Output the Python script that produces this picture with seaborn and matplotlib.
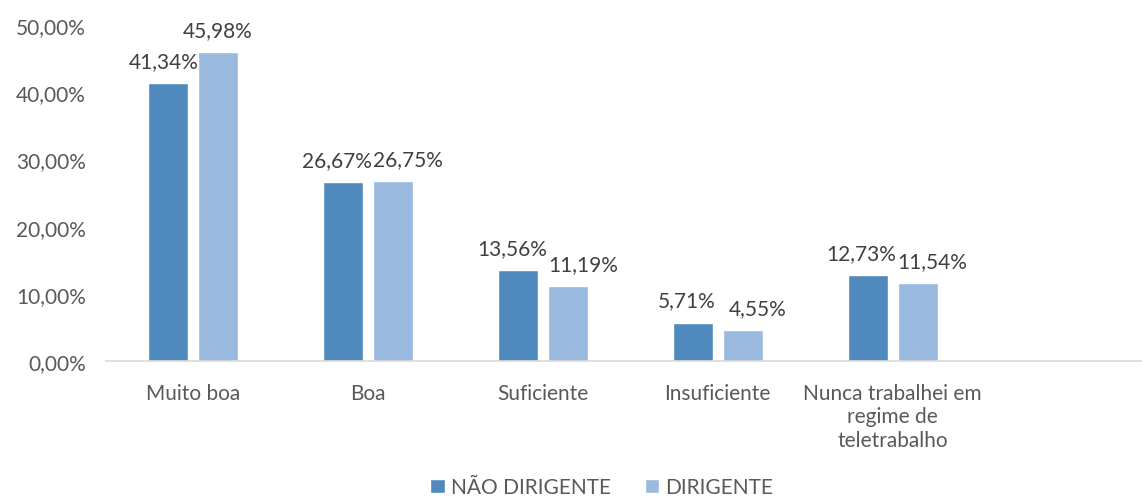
import matplotlib
matplotlib.use("Agg")
import matplotlib.pyplot as plt
import seaborn as sns
import pandas as pd
from matplotlib.ticker import FuncFormatter
from matplotlib.transforms import offset_copy

categories = ["Muito boa", "Boa", "Suficiente", "Insuficiente",
              "Nunca trabalhei em\nregime de\nteletrabalho"]
series_names = ["NÃO DIRIGENTE", "DIRIGENTE"]
nao_dirigente = [41.34, 26.67, 13.56, 5.71, 12.73]
dirigente = [45.98, 26.75, 11.19, 4.55, 11.54]
y_ticks = [0, 10, 20, 30, 40, 50]

colors = ["#4F89BD", "#9AB9DF"]

sns.set_theme(style="white")
plt.rcParams["font.family"] = ["Lato", "DejaVu Sans"]

rows = []
for c, a, b in zip(categories, nao_dirigente, dirigente):
    rows.append({"cat": c, "serie": series_names[0], "val": a})
    rows.append({"cat": c, "serie": series_names[1], "val": b})
df = pd.DataFrame(rows)

FS = 15
fig = plt.figure(figsize=(11.42, 5.02), dpi=100)
ax = fig.add_axes([0.0924, 0.279, 0.919, 0.669])

sns.barplot(data=df, x="cat", y="val", hue="serie", order=categories,
            hue_order=series_names, palette=colors, width=0.571, gap=0.2,
            ax=ax, legend=True, errorbar=None, saturation=1)

ax.set_xlim(-0.5, 5.5)
ax.set_ylim(0, 50)
ax.set_yticks(y_ticks)
ax.yaxis.set_major_formatter(FuncFormatter(lambda v, p: f"{v:.2f}".replace(".", ",") + "%"))
ax.set_xlabel("")
ax.set_ylabel("")

for s in ["top", "right", "left"]:
    ax.spines[s].set_visible(False)
ax.spines["bottom"].set_color("#D9D9D9")
ax.spines["bottom"].set_linewidth(1.2)

ax.tick_params(axis="y", length=0, labelsize=FS, labelcolor="#595959", pad=14)
ax.tick_params(axis="x", length=0, labelsize=FS, labelcolor="#595959", pad=16)
for lbl in ax.get_xticklabels():
    lbl.set_linespacing(1.2)

dark_bars, light_bars = ax.containers[0], ax.containers[1]
for bd, bl in zip(dark_bars, light_bars):
    hd, hl = bd.get_height(), bl.get_height()
    close = abs(hd - hl) < 3
    for bar, off in ((bd, -6 if close else -4), (bl, 15 if close else 0)):
        h = bar.get_height()
        tr = offset_copy(ax.transData, fig=fig, x=off, y=12, units="dots")
        ax.text(bar.get_x() + bar.get_width() / 2, h,
                f"{h:.2f}".replace(".", ",") + "%", ha="center", va="bottom",
                fontsize=FS, color="#404040", transform=tr)

handles, labels = ax.get_legend_handles_labels()
ax.legend_.remove()
fig.legend(handles, labels, loc="lower center", bbox_to_anchor=(0.527, -0.03),
           ncol=2, frameon=False, fontsize=FS, labelcolor="#595959",
           handlelength=0.7, handleheight=0.7, handletextpad=0.3,
           columnspacing=1.6)

fig.savefig("out.png", dpi=100)
